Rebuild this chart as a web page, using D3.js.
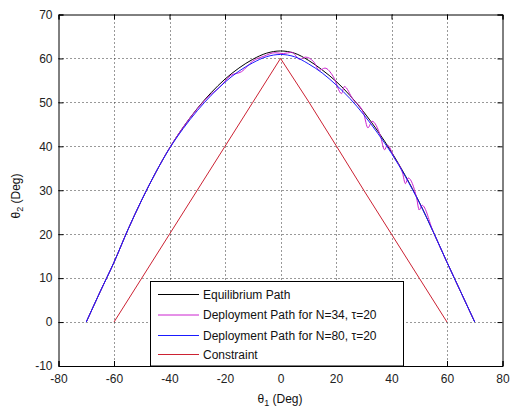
<!DOCTYPE html>
<html>
<head>
<meta charset="utf-8">
<script src="https://cdn.jsdelivr.net/npm/d3@7"></script>
<style>
  body { margin: 0; background: #fff; }
  svg text { font-family: "Liberation Sans", Arial, sans-serif; }
</style>
</head>
<body>
<div id="chart"></div>
<script>
// equilibrium path (theta1, theta2)
var eqT1 = [-70, -65, -60, -55, -50, -45, -40, -35, -30, -25, -20, -15, -10, -5, 0,
            5, 10, 15, 20, 25, 30, 35, 40, 45, 50, 55, 60, 65, 70];
var eqT2 = [0, 6.9, 13.6, 21, 27.8, 34, 39.6, 44.4, 48.6, 52.2, 55.3, 57.8, 59.8, 61.2, 61.7,
            61.2, 59.6, 57.4, 54.8, 51.6, 47.8, 43.5, 38.7, 33.3, 27.3, 20.6, 13.6, 6.8, 0];

// deployment path N=34
var n34T1 = [-70, -65, -60, -55, -50, -45, -40, -35, -30, -26, -22, -18, -14, -10, -6, -2, 1, 4, 7, 9,
             12, 14, 16, 19, 22, 23, 26, 30, 31.5, 33, 36, 37.5, 38.5, 41, 44, 45, 46, 49, 50, 51,
             55, 60, 65, 70];
var n34T2 = [0, 6.9, 13.6, 21, 27.8, 34, 39.6, 44.4, 48.5, 51.3, 53.4, 56.1, 57, 59.4, 60.5, 61.3, 61.1, 61.4, 59.8, 60.3,
             59.2, 57.3, 57.8, 55.9, 52, 53.6, 50.8, 47.4, 44.2, 45.7, 42.4, 39.2, 40.3, 37.4, 33.9, 31.5, 32.8, 28.4, 25.5, 26.6,
             20.6, 13.6, 6.8, 0];

// deployment path N=80
var n80T1 = [-70, -65, -60, -55, -50, -45, -40, -35, -30, -25, -20, -15, -10, -5, 0,
             5, 10, 15, 20, 25, 30, 35, 40, 45, 50, 55, 60, 65, 70];
var n80T2 = [0, 6.9, 13.6, 21, 27.8, 34, 39.5, 44.1, 48.1, 51.6, 54.6, 57.1, 59, 60.4, 60.9,
             60.4, 58.8, 56.7, 54, 50.9, 47.2, 43, 38.4, 33.1, 27.2, 20.6, 13.6, 6.8, 0];

// constraint
var conT1 = [-60, -50, -40, -30, -20, -10, 0, 10, 20, 30, 40, 50, 60];
var conT2 = [0, 10, 20, 30, 40, 50, 60, 50.3, 40.2, 30, 20, 10, 0];

var xTicks = [-80, -60, -40, -20, 0, 20, 40, 60, 80];
var yTicks = [-10, 0, 10, 20, 30, 40, 50, 60, 70];

var legendNames = ["Equilibrium Path", "Deployment Path for N=34, \u03c4=20",
                   "Deployment Path for N=80, \u03c4=20", "Constraint"];
var colors = ["#000000", "#cc22d0", "#1a1aff", "#cc2233"];

function drawChart() {
  var W = 510, H = 408;
  var pLeft = 58.5, pRight = 502.5, pTop = 14.5, pBottom = 366;

  var svg = d3.select("#chart").append("svg")
    .attr("width", W).attr("height", H);

  var x = d3.scaleLinear().domain([-80, 80]).range([pLeft, pRight]);
  var y = d3.scaleLinear().domain([-10, 70]).range([pBottom, pTop]);

  // grid
  svg.append("g").selectAll("line").data(xTicks.slice(1, -1)).enter().append("line")
    .attr("x1", d => Math.round(x(d)) + 0.5).attr("x2", d => Math.round(x(d)) + 0.5)
    .attr("y1", pTop).attr("y2", pBottom)
    .attr("stroke", "#333").attr("stroke-dasharray", "1,3");
  svg.append("g").selectAll("line").data(yTicks.slice(1, -1)).enter().append("line")
    .attr("y1", d => Math.round(y(d)) + 0.5).attr("y2", d => Math.round(y(d)) + 0.5)
    .attr("x1", pLeft).attr("x2", pRight)
    .attr("stroke", "#333").attr("stroke-dasharray", "1,3");

  // axes with inward ticks
  var fmt = d => String(d);
  svg.append("g").attr("transform", "translate(0," + pBottom + ")")
    .call(d3.axisBottom(x).tickValues(xTicks).tickSize(-5).tickPadding(8).tickFormat(fmt));
  svg.append("g").attr("transform", "translate(0," + pTop + ")")
    .call(d3.axisTop(x).tickValues(xTicks).tickSize(-5).tickFormat(""));
  svg.append("g").attr("transform", "translate(" + pLeft + ",0)")
    .call(d3.axisLeft(y).tickValues(yTicks).tickSize(-5).tickPadding(6).tickFormat(fmt));
  svg.append("g").attr("transform", "translate(" + pRight + ",0)")
    .call(d3.axisRight(y).tickValues(yTicks).tickSize(-5).tickFormat(""));

  svg.selectAll(".domain").attr("stroke", "#000");
  svg.selectAll(".tick line").attr("stroke", "#000");
  svg.selectAll(".tick text").attr("font-size", 12).attr("fill", "#222")
    .style("font-family", "'Liberation Sans', Arial, sans-serif");

  // curves
  var line = d3.line().x(d => x(d[0])).y(d => y(d[1]));
  var series = [
    d3.zip(eqT1, eqT2),
    d3.zip(n34T1, n34T2),
    d3.zip(n80T1, n80T2),
    d3.zip(conT1, conT2)
  ];
  series.forEach(function(s, i) {
    svg.append("path").datum(s)
      .attr("d", line.curve(i == 3 ? d3.curveLinear : d3.curveMonotoneX))
      .attr("fill", "none")
      .attr("stroke", colors[i])
      .attr("stroke-width", 1);
  });

  // legend
  var lg = svg.append("g");
  lg.append("rect")
    .attr("x", 150.5).attr("y", 281.5).attr("width", 253).attr("height", pBottom - 281.5)
    .attr("fill", "#fff").attr("stroke", "#000");
  var rowY = [294, 314.5, 335, 354];
  legendNames.forEach(function(name, i) {
    lg.append("line")
      .attr("x1", 158).attr("x2", 199)
      .attr("y1", rowY[i] + 0.5).attr("y2", rowY[i] + 0.5)
      .attr("stroke", colors[i]);
    lg.append("text")
      .attr("x", 203).attr("y", rowY[i] + 4.5)
      .attr("font-size", 12).attr("fill", "#111")
      .text(name);
  });

  // axis labels
  var xl = svg.append("text").attr("x", 280).attr("y", 403)
    .attr("text-anchor", "middle").attr("font-size", 12).attr("fill", "#111");
  xl.append("tspan").text("\u03b8");
  xl.append("tspan").attr("font-size", 9).attr("dy", 3).text("1");
  xl.append("tspan").attr("dy", -3).text(" (Deg)");

  var yl = svg.append("text")
    .attr("transform", "translate(20,196) rotate(-90)")
    .attr("text-anchor", "middle").attr("font-size", 12).attr("fill", "#111");
  yl.append("tspan").text("\u03b8");
  yl.append("tspan").attr("font-size", 9).attr("dy", 3).text("2");
  yl.append("tspan").attr("dy", -3).text(" (Deg)");
}

drawChart();
</script>
</body>
</html>
